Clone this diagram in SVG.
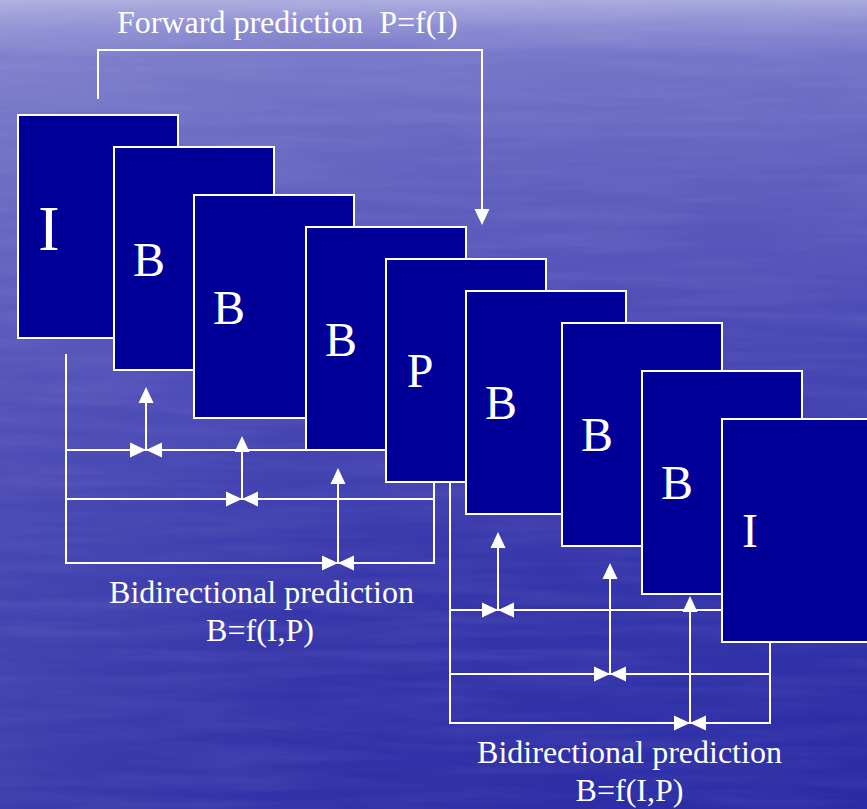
<svg xmlns="http://www.w3.org/2000/svg" width="867" height="809" viewBox="0 0 867 809">
<defs>
<linearGradient id="bg" x1="0" y1="0" x2="0" y2="1">
<stop offset="0" stop-color="#a9a9de"/>
<stop offset="0.03" stop-color="#8c8cd2"/>
<stop offset="0.07" stop-color="#7373c8"/>
<stop offset="0.2" stop-color="#6060bf"/>
<stop offset="0.45" stop-color="#4545b3"/>
<stop offset="0.7" stop-color="#3333aa"/>
<stop offset="1" stop-color="#2a2aa5"/>
</linearGradient>
<linearGradient id="side" x1="0" y1="0" x2="1" y2="0">
<stop offset="0" stop-color="#ffffff" stop-opacity="0.09"/>
<stop offset="0.35" stop-color="#ffffff" stop-opacity="0.03"/>
<stop offset="1" stop-color="#ffffff" stop-opacity="0"/>
</linearGradient>
<filter id="tex" x="0" y="0" width="100%" height="100%">
<feTurbulence type="fractalNoise" baseFrequency="0.006 0.08" numOctaves="3" seed="4"/>
<feColorMatrix type="matrix" values="0 0 0 0 0.85  0 0 0 0 0.85  0 0 0 0 1  0 0 0 0.13 -0.045"/>
</filter>
<path id="ah" d="M0,0 L-7.5,16 L7.5,16 Z" fill="#ffffff"/>
<g id="bowtie">
<use href="#ah" transform="rotate(90)"/>
<use href="#ah" transform="rotate(-90)"/>
</g>
</defs>
<style>
.frame{fill:#000099;stroke:#ffffff;stroke-width:2}
.ln{fill:none;stroke:#ffffff;stroke-width:2}
.lbl{font-family:"Liberation Serif","Times New Roman",serif;fill:#ffffff;font-size:48px;text-anchor:middle}
.cap{font-family:"Liberation Serif","Times New Roman",serif;fill:#ffffff;font-size:32px}
</style>
<rect width="867" height="809" fill="url(#bg)"/>
<rect width="867" height="809" fill="url(#side)"/>
<rect width="867" height="809" filter="url(#tex)"/>

<g id="connectors">
<path class="ln" d="M98,99 V50 H482 V212"/>
<use href="#ah" transform="translate(482,225) rotate(180)"/>
<!-- left bracket -->
<path class="ln" d="M66,354 V563 H434 V470 M66,450 H386 M66,499 H434"/>
<path class="ln" d="M146,450 V395 M242,499 V444 M338,563 V476"/>
<use href="#ah" x="146" y="387"/>
<use href="#ah" x="242" y="436"/>
<use href="#ah" x="338" y="468"/>
<use href="#bowtie" x="146" y="450"/>
<use href="#bowtie" x="242" y="499"/>
<use href="#bowtie" x="338" y="563"/>
<!-- right bracket -->
<path class="ln" d="M450,470 V723 H770 V630 M450,610 H740 M450,674 H770"/>
<path class="ln" d="M498,610 V540 M610,674 V571 M690,723 V604"/>
<use href="#ah" x="498" y="532"/>
<use href="#ah" x="610" y="563"/>
<use href="#ah" x="690" y="596"/>
<use href="#bowtie" x="498" y="610"/>
<use href="#bowtie" x="610" y="674"/>
<use href="#bowtie" x="690" y="723"/>
</g>

<g id="frame1"><rect class="frame" x="18" y="115" width="160" height="223"/><text class="lbl" x="49" y="250" style="font-size:64px">I</text></g>
<g id="frame2"><rect class="frame" x="114" y="147" width="160" height="223"/><text class="lbl" x="149" y="276">B</text></g>
<g id="frame3"><rect class="frame" x="194" y="195" width="160" height="223"/><text class="lbl" x="229" y="324">B</text></g>
<g id="frame4"><rect class="frame" x="306" y="227" width="160" height="223"/><text class="lbl" x="341" y="356">B</text></g>
<g id="frame5"><rect class="frame" x="386" y="259" width="160" height="223"/><text class="lbl" x="420" y="387">P</text></g>
<g id="frame6"><rect class="frame" x="466" y="291" width="160" height="223"/><text class="lbl" x="501" y="419">B</text></g>
<g id="frame7"><rect class="frame" x="562" y="323" width="160" height="223"/><text class="lbl" x="597" y="451">B</text></g>
<g id="frame8"><rect class="frame" x="642" y="371" width="160" height="223"/><text class="lbl" x="677" y="499">B</text></g>
<g id="frame9"><rect class="frame" x="722" y="419" width="160" height="223"/><text class="lbl" x="750" y="547">I</text></g>

<g id="labels">
<text class="cap" x="117" y="33" xml:space="preserve">Forward prediction  P=f(I)</text>
<text class="cap" x="261.5" y="603" text-anchor="middle">Bidirectional prediction</text>
<text class="cap" x="260" y="641" text-anchor="middle">B=f(I,P)</text>
<text class="cap" x="629.5" y="763" text-anchor="middle">Bidirectional prediction</text>
<text class="cap" x="629.5" y="801" text-anchor="middle">B=f(I,P)</text>
</g>
</svg>
